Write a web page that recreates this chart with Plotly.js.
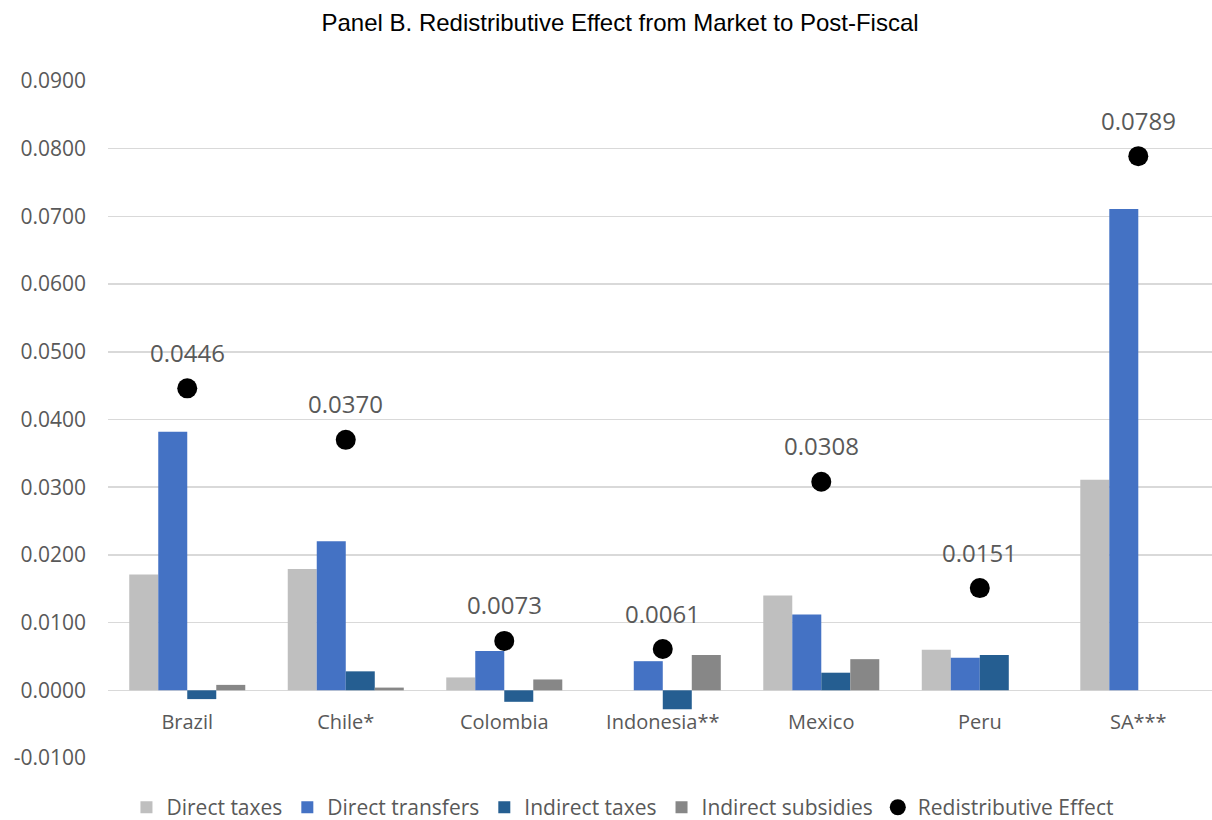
<!DOCTYPE html>
<html>
<head>
<meta charset="utf-8">
<script src="https://cdn.plot.ly/plotly-3.0.1.min.js"></script>
<style>html,body{margin:0;padding:0;background:#fff;}#chart{width:1212px;height:820px;}</style>
</head>
<body>
<div id="chart"></div>
<script>
var countries = ["Brazil", "Chile*", "Colombia", "Indonesia**", "Mexico", "Peru", "SA***"];
var directTaxes = [0.0171, 0.0179, 0.0019, 0.0000, 0.0140, 0.0060, 0.0311];
var directTransfers = [0.0382, 0.0220, 0.0058, 0.0043, 0.0112, 0.0048, 0.0711];
var indirectTaxes = [-0.0013, 0.0028, -0.0017, -0.0028, 0.0026, 0.0052, 0.0000];
var indirectSubsidies = [0.0008, 0.0004, 0.0016, 0.0052, 0.0046, 0.0000, 0.0000];
var redistributiveEffect = [0.0446, 0.0370, 0.0073, 0.0061, 0.0308, 0.0151, 0.0789];
var yTickVals = [-0.01, 0, 0.01, 0.02, 0.03, 0.04, 0.05, 0.06, 0.07, 0.08, 0.09];
var yTickText = ["-0.0100", "0.0000", "0.0100", "0.0200", "0.0300", "0.0400", "0.0500", "0.0600", "0.0700", "0.0800", "0.0900"];

var font = "Open Sans, DejaVu Sans, sans-serif";
function bar(name, y, color) {
  return {type: "bar", name: name, x: countries, y: y, marker: {color: color, line: {width: 0}}, hoverinfo: "x+y"};
}
var traces = [
  bar("Direct taxes", directTaxes, "#bfbfbf"),
  bar("Direct transfers", directTransfers, "#4472c4"),
  bar("Indirect taxes", indirectTaxes, "#255e91"),
  bar("Indirect subsidies", indirectSubsidies, "#878787"),
  {type: "scatter", mode: "markers", name: "Redistributive Effect", x: countries, y: redistributiveEffect,
   marker: {color: "#000000", size: 20}}
];
var annotations = countries.map(function (c, i) {
  return {x: c, y: redistributiveEffect[i], text: redistributiveEffect[i].toFixed(4), showarrow: false,
    yshift: 36, font: {family: font, size: 24, color: "#595959"}};
});
var layout = {
  width: 1212, height: 820,
  margin: {l: 108, r: 0, t: 81, b: 62, autoexpand: false},
  paper_bgcolor: "#ffffff", plot_bgcolor: "#ffffff",
  title: {text: "Panel B. Redistributive Effect from Market to Post-Fiscal", x: 0.5116, xref: "container", xanchor: "center",
    y: 0.973, yanchor: "middle",
    font: {family: "Liberation Sans, Arial, sans-serif", size: 24, color: "#000000"}},
  barmode: "group", bargap: 0.268, bargroupgap: 0,
  xaxis: {type: "category", range: [-0.5, 6.465], anchor: "free", position: 0.099, showgrid: false, zeroline: false,
    showline: false, ticks: "outside", ticklen: 13, tickcolor: "rgba(0,0,0,0)",
    tickfont: {family: font, size: 20, color: "#595959"}, fixedrange: true},
  yaxis: {range: [-0.01, 0.09], tickvals: yTickVals, ticktext: yTickText, showgrid: true, gridcolor: "#d9d9d9", gridwidth: 1.5,
    zeroline: false, showline: false, ticks: "", ticklabelstandoff: 21,
    tickfont: {family: font, size: 21, color: "#595959"}, fixedrange: true},
  showlegend: true,
  legend: {orientation: "h", x: 0.466, xanchor: "center", y: -0.043, yanchor: "top", font: {family: font, size: 21, color: "#595959"},
    itemwidth: 30, traceorder: "normal"},
  annotations: annotations
};
Plotly.newPlot("chart", traces, layout, {displayModeBar: false, staticPlot: true});
</script>
</body>
</html>
